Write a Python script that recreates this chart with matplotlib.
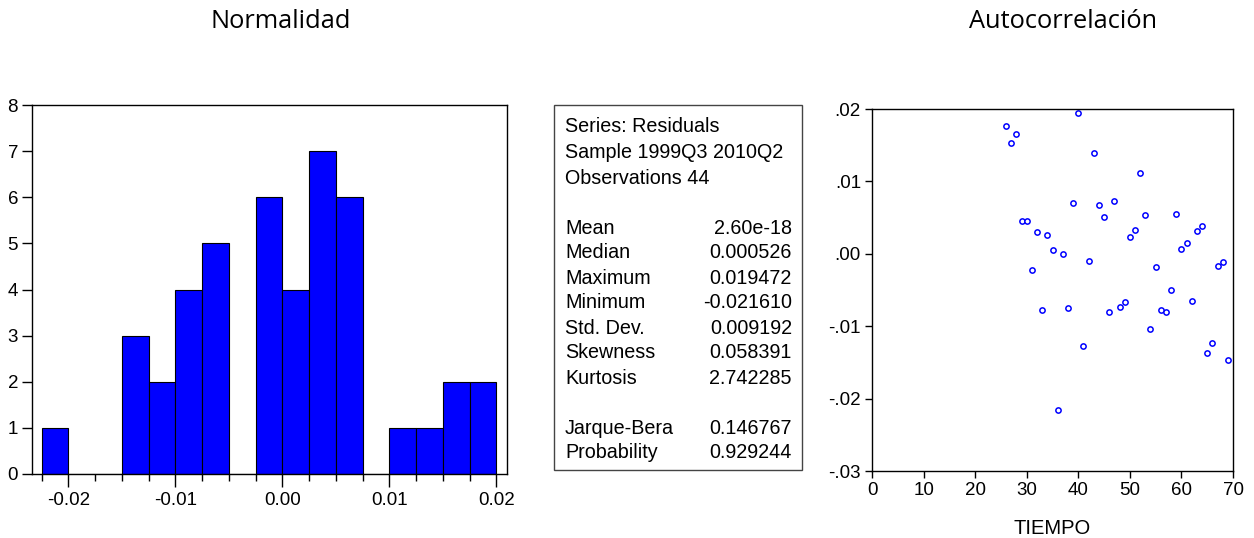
import numpy as np
import matplotlib.pyplot as plt
from matplotlib.patches import Rectangle
from matplotlib.ticker import MultipleLocator, FuncFormatter

# Histogram of residuals (bin width 0.0025)
bin_left = [-0.0225, -0.02, -0.0175, -0.015, -0.0125, -0.01, -0.0075, -0.005,
            -0.0025, 0.0, 0.0025, 0.005, 0.0075, 0.01, 0.0125, 0.015, 0.0175]
counts = [1, 0, 0, 3, 2, 4, 5, 0, 6, 4, 7, 6, 0, 1, 1, 2, 2]
bin_width = 0.0025

# Residuals vs time
tiempo = list(range(26, 70))
resid = [0.01763, 0.01532, 0.01652, 0.00457, 0.00457, -0.00217, 0.00295, -0.00771,
         0.00263, 0.00051, -0.02161, 0.00000, -0.00743, 0.00706, 0.01947, -0.01278,
         -0.00106, 0.01394, 0.00669, 0.00508, -0.00803, 0.00725, -0.00729, -0.00669,
         0.00226, 0.00323, 0.01112, 0.00531, -0.01034, -0.00185, -0.00780, -0.00798,
         -0.00498, 0.00554, 0.00069, 0.00143, -0.00655, 0.00309, 0.00378, -0.01375,
         -0.01232, -0.00171, -0.00120, -0.01463]

stat_names = ["Mean", "Median", "Maximum", "Minimum", "Std. Dev.", "Skewness", "Kurtosis"]
stat_values = ["2.60e-18", "0.000526", "0.019472", "-0.021610", "0.009192", "0.058391", "2.742285"]
test_names = ["Jarque-Bera", "Probability"]
test_values = ["0.146767", "0.929244"]
header = ["Series: Residuals", "Sample 1999Q3 2010Q2", "Observations 44"]

W, H = 1254, 538
plt.rcParams["font.family"] = ["Liberation Sans", "DejaVu Sans"]
TICK_FS = 13.5
BOX_FS = 14.2
TITLE_FS = 18.3

fig = plt.figure(figsize=(W / 100, H / 100), dpi=100)

def px_axes(l, t, r, b):
    return fig.add_axes([l / W, 1 - b / H, (r - l) / W, (b - t) / H])

# --- histogram
ax1 = px_axes(32, 105, 507, 474)
ax1.bar(bin_left, counts, width=bin_width, align="edge", color="#0000FF",
        edgecolor="black", linewidth=0.8)
ax1.set_xlim(-0.0234, 0.0210)
ax1.set_ylim(0, 8)
ax1.xaxis.set_major_locator(MultipleLocator(0.01))
ax1.xaxis.set_minor_locator(MultipleLocator(0.0025))
ax1.xaxis.set_major_formatter(FuncFormatter(lambda v, p: f"{v:.2f}"))
ax1.yaxis.set_major_locator(MultipleLocator(1))
ax1.tick_params(axis="x", which="major", length=9, width=1, labelsize=TICK_FS, pad=4)
ax1.tick_params(axis="x", which="minor", length=5, width=1)
ax1.tick_params(axis="y", length=7, width=1, labelsize=TICK_FS, pad=3)
for s in ax1.spines.values():
    s.set_linewidth(1)
fig.text(281 / W, 1 - 22 / H, "Normalidad", ha="center", va="center",
         fontsize=TITLE_FS, family=["Open Sans", "DejaVu Sans"])

# --- statistics box
fig.add_artist(Rectangle((554 / W, 1 - 470 / H), 248 / W, 365 / H,
                         transform=fig.transFigure, fill=False,
                         edgecolor="#444444", linewidth=1))
rows_y = [127, 152, 178]
for txt, y in zip(header, rows_y):
    fig.text(565 / W, 1 - y / H, txt, ha="left", va="center", fontsize=BOX_FS)
for i, (n, v) in enumerate(zip(stat_names, stat_values)):
    y = 228 + i * 25
    fig.text(565 / W, 1 - y / H, n, ha="left", va="center", fontsize=BOX_FS)
    fig.text(792 / W, 1 - y / H, v, ha="right", va="center", fontsize=BOX_FS)
for i, (n, v) in enumerate(zip(test_names, test_values)):
    y = 428 + i * 25
    fig.text(565 / W, 1 - y / H, n, ha="left", va="center", fontsize=BOX_FS)
    fig.text(792 / W, 1 - y / H, v, ha="right", va="center", fontsize=BOX_FS)

# --- residuals vs time
ax2 = px_axes(872, 109, 1233, 471)
ax2.plot(tiempo, resid, linestyle="none", marker="o", markersize=3.8,
         markerfacecolor="white", markeredgecolor="#0000FF", markeredgewidth=1.1)
ax2.set_xlim(0, 70)
ax2.set_ylim(-0.03, 0.02)
ax2.xaxis.set_major_locator(MultipleLocator(10))
ax2.yaxis.set_major_locator(MultipleLocator(0.01))
ax2.yaxis.set_major_formatter(FuncFormatter(
    lambda v, p: (f"{v:.2f}").replace("0.", ".") if abs(v) > 1e-9 else ".00"))
ax2.tick_params(axis="both", length=5, width=1, labelsize=TICK_FS, pad=3)
ax2.set_xlabel("TIEMPO", fontsize=14.5, labelpad=14)
for s in ax2.spines.values():
    s.set_linewidth(1)
fig.text(1063 / W, 1 - 22 / H, "Autocorrelación", ha="center", va="center",
         fontsize=TITLE_FS, family=["Open Sans", "DejaVu Sans"])

fig.savefig("out.png", dpi=100)
